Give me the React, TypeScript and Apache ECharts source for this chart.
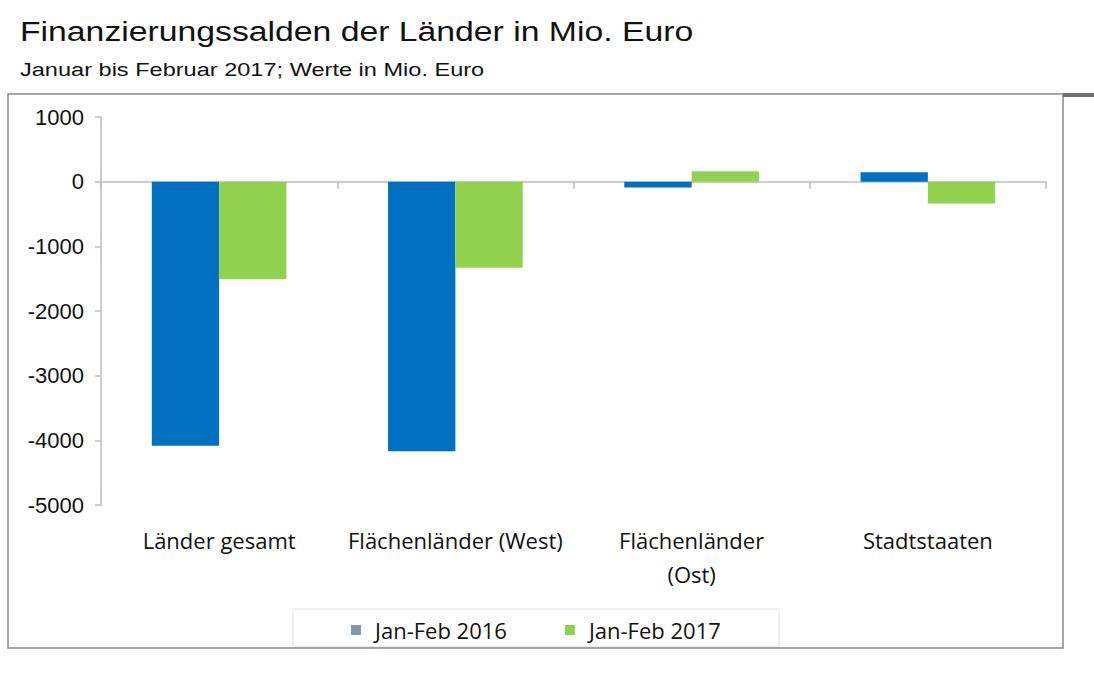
import React, { useEffect, useRef } from "react";
import * as echarts from "echarts";

const categories = ["Länder gesamt", "Flächenländer (West)", "Flächenländer\n(Ost)", "Stadtstaaten"];
const series2016 = [-4085, -4167, -90, 146];
const series2017 = [-1508, -1333, 162, -337];
const seriesNames = ["Jan-Feb 2016", "Jan-Feb 2017"];
const yTicks = { min: -5000, max: 1000, interval: 1000 };

const titleText = "Finanzierungssalden der Länder in Mio. Euro";
const subtitleText = "Januar bis Februar 2017; Werte in Mio. Euro";

export default function App() {
  const ref = useRef<HTMLDivElement>(null);
  useEffect(() => {
    if (!ref.current) return;
    const chart = echarts.init(ref.current, null, { renderer: "svg" });
    const catFont = "'Open Sans', Lato, sans-serif";
    chart.setOption({
      animation: false,
      backgroundColor: "#ffffff",
      graphic: [
        {
          type: "text",
          x: 20,
          y: 18,
          scaleX: 1.25,
          style: { text: titleText, font: "27px 'Liberation Sans', Arial, sans-serif", fill: "#111" },
        },
        {
          type: "text",
          x: 20,
          y: 60,
          scaleX: 1.24,
          style: { text: subtitleText, font: "19px 'Liberation Sans', Arial, sans-serif", fill: "#111" },
        },
        {
          type: "rect",
          shape: { x: 8, y: 94, width: 1055, height: 554 },
          style: { fill: "none", stroke: "#8a8a8a", lineWidth: 1.5 },
          silent: true,
        },
        {
          type: "rect",
          shape: { x: 1063, y: 93, width: 31, height: 4 },
          style: { fill: "#6e6e6e" },
          silent: true,
        },
        {
          type: "rect",
          shape: { x: 293, y: 609, width: 486, height: 38 },
          style: { fill: "#ffffff", stroke: "#dcdcdc", lineWidth: 1 },
          silent: true,
          z: -1,
        },
      ],
      legend: {
        left: 346,
        top: 614,
        itemWidth: 10,
        itemHeight: 10,
        itemGap: 58,
        icon: "rect",
        textStyle: { fontFamily: catFont, fontSize: 22, color: "#111", padding: [0, 0, 0, 9] },
        data: [
          { name: seriesNames[0], itemStyle: { color: "#8196b1" } },
          { name: seriesNames[1], itemStyle: { color: "#92d050" } },
        ],
      },
      grid: { left: 101, right: 48, top: 117, bottom: 168, containLabel: false },
      xAxis: [
        {
          type: "category",
          data: categories,
          position: "bottom",
          axisLine: { show: false, onZero: false },
          axisTick: { show: false },
          axisLabel: {
            fontFamily: catFont,
            fontSize: 22,
            color: "#111",
            margin: 18,
            lineHeight: 34,
            interval: 0,
          },
        },
        {
          type: "category",
          data: categories,
          position: "bottom",
          axisLine: { show: true, onZero: true, lineStyle: { color: "#bdbdbd", width: 1.5 } },
          axisTick: { show: true, length: 7, lineStyle: { color: "#bdbdbd", width: 1.5 } },
          axisLabel: { show: false },
        },
      ],
      yAxis: {
        type: "value",
        min: yTicks.min,
        max: yTicks.max,
        interval: yTicks.interval,
        axisLine: { show: true, lineStyle: { color: "#bdbdbd", width: 1.5 } },
        axisTick: { show: true, length: 6, lineStyle: { color: "#bdbdbd", width: 1.5 } },
        splitLine: { show: false },
        axisLabel: {
          fontFamily: "'Liberation Sans', Arial, sans-serif",
          fontSize: 22,
          color: "#111",
          margin: 17,
          formatter: (v: number) => String(v),
        },
      },
      series: [
        {
          name: seriesNames[0],
          type: "bar",
          xAxisIndex: 0,
          data: series2016,
          barGap: "0%",
          barCategoryGap: "43%",
          itemStyle: { color: "#0070c0" },
        },
        {
          name: seriesNames[1],
          type: "bar",
          xAxisIndex: 0,
          data: series2017,
          barGap: "0%",
          barCategoryGap: "43%",
          itemStyle: { color: "#92d050" },
        },
      ],
    });
    return () => chart.dispose();
  }, []);
  return (
    <div
      ref={ref}
      style={{ position: "fixed", left: 0, top: 0, width: 1094, height: 673, background: "#fff" }}
    />
  );
}
